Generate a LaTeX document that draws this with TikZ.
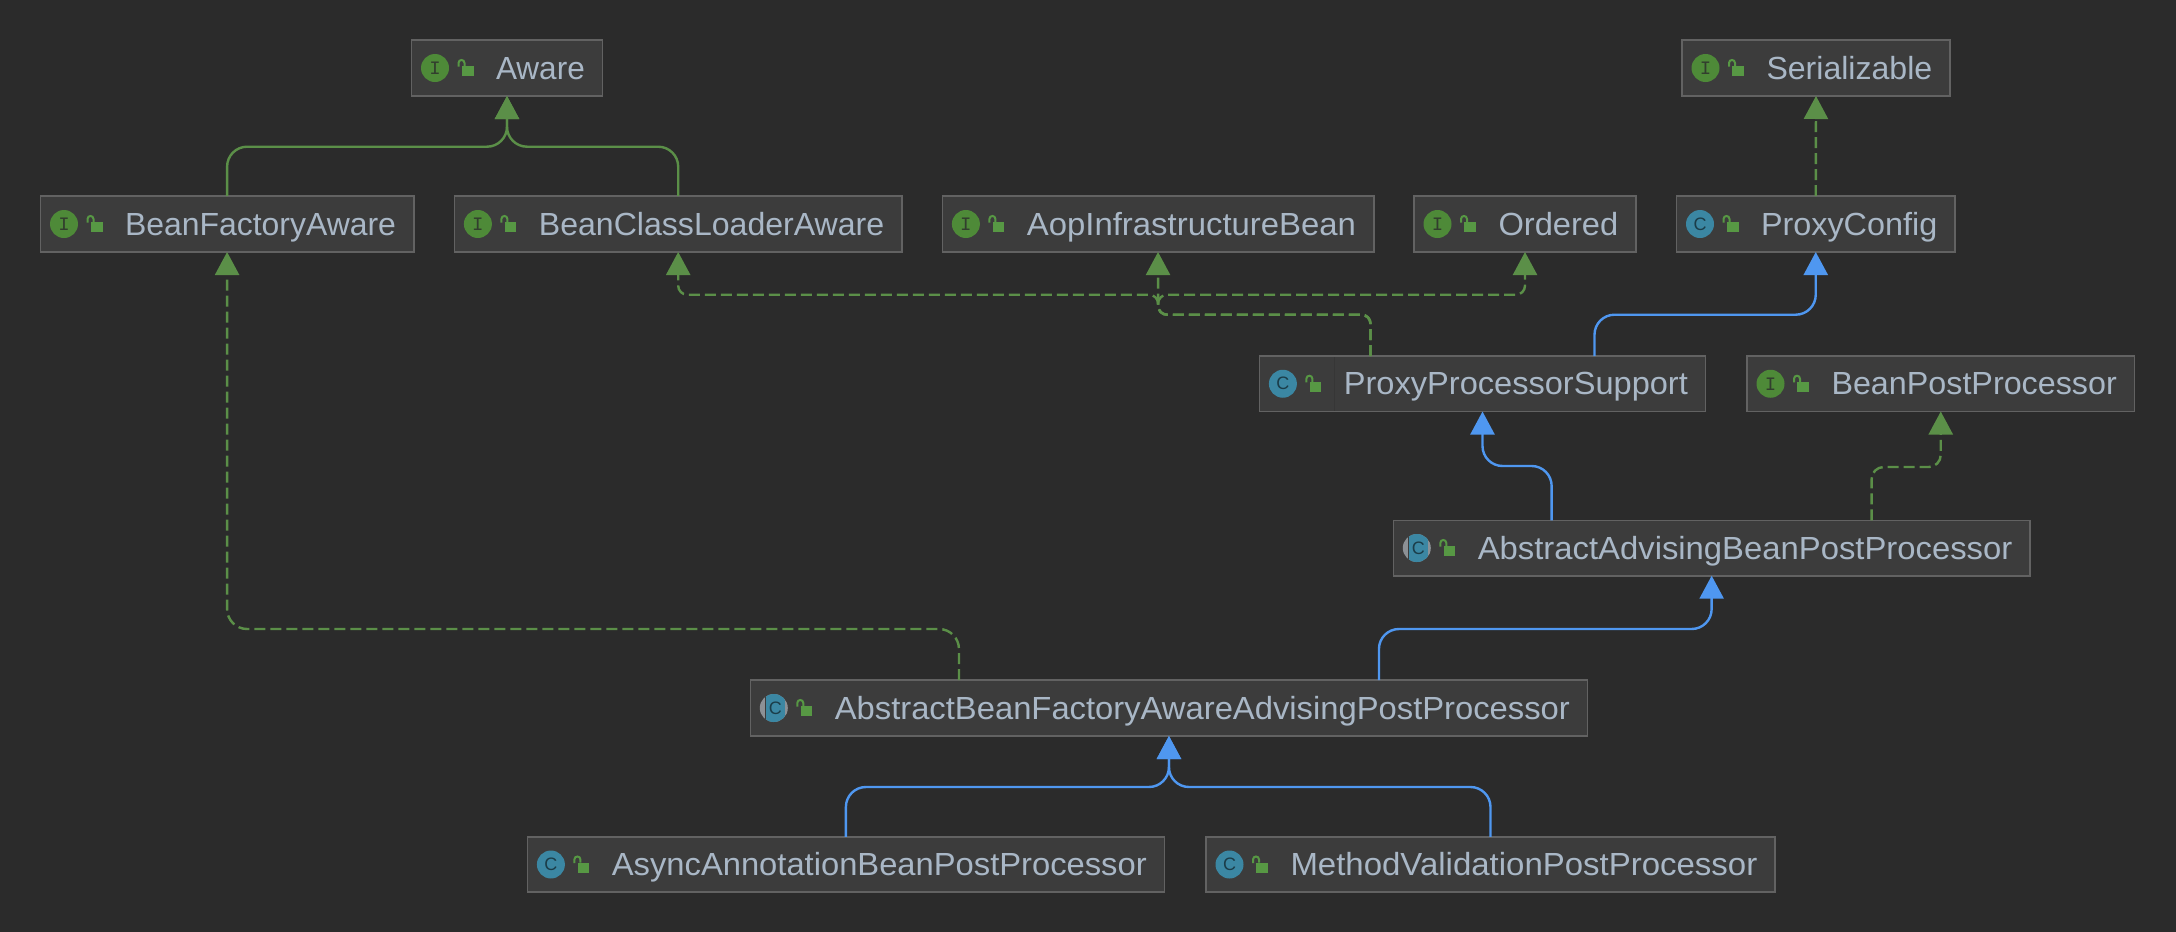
\documentclass[tikz,border=0pt]{standalone}
\usepackage{fontspec}
\usepackage{graphicx}
\setmainfont{Liberation Sans}
\newfontfamily\iconfont{Liberation Mono}
\usetikzlibrary{arrows.meta,calc}
\definecolor{bg}{HTML}{2B2B2B}
\definecolor{boxfill}{HTML}{3C3C3C}
\definecolor{boxline}{HTML}{626262}
\definecolor{sepline}{HTML}{363636}
\definecolor{txt}{HTML}{A9B7C6}
\definecolor{gline}{HTML}{5B8F48}
\definecolor{bline}{HTML}{4F97F0}
\definecolor{igreen}{HTML}{4E8A38}
\definecolor{iteal}{HTML}{3B87A3}
\definecolor{lockc}{HTML}{579844}
\definecolor{igray}{HTML}{8C9196}
\tikzset{
  x=0.5pt,y=-0.5pt,
  clsbox/.style={draw=boxline,fill=boxfill,line width=0.8pt,inner sep=0pt,outer sep=0pt},
  clstext/.style={text=txt,font=\fontsize{16}{18}\selectfont,inner sep=0pt,outer sep=0pt,anchor=base west},
  iconletter/.style={font=\iconfont\fontsize{9.5}{10}\selectfont,inner sep=0pt},
  iconletterc/.style={font=\fontsize{9}{10}\selectfont,inner sep=0pt},
  conn/.style={line width=1.2pt,rounded corners=10pt,-{Triangle[length=11.5pt,width=12pt]}},
  greenimpl/.style={conn,draw=gline,dash pattern=on 5.5pt off 2.5pt},
  greenext/.style={conn,draw=gline},
  blueext/.style={conn,draw=bline},
}
\newcommand\iconI{\fill[igreen] (23.5,0) circle[radius=7pt];\node[iconletter,text=bg!80!igreen] at (23.5,0) {I};}
\newcommand\iconC{\fill[iteal] (23.5,0) circle[radius=7pt];\node[iconletterc,text=iteal!45!black] at (23.5,0) {C};}
\newcommand\iconA{\fill[igray] (23.5,0) circle[radius=7pt];
  \begin{scope}\clip (23.5,0) circle[radius=7pt];\fill[boxfill] (14.2,-15) rectangle (15.5,15);\fill[iteal] (15.5,-15) rectangle (34.2,15);\end{scope}
  \node[iconletterc,text=iteal!45!black] at (25,0) {C};}
\newcommand\lockicon{\fill[lockc] (50.4,-2) rectangle (62,8);
  \draw[lockc,line width=1pt] (47,-1.5) -- (47,-5) .. controls (47,-9) and (53,-9) .. (53,-5) -- (53,-2);}
\newcommand\cls[7]{%
  \pgfmathsetmacro\W{(#3-#2)/2}\pgfmathsetmacro\H{(#5-#4)/2}
  \pgfmathsetmacro\TW{(#3-#2-84.5-17.7)/2}
  \node[clsbox,minimum width=\W pt,minimum height=\H pt] (#1) at ({(#2+#3)/2},{(#4+#5)/2}) {};
  \begin{scope}[shift={({#2},{(#4+#5)/2})}]
    \csname icon#6\endcsname\lockicon
    \node[clstext] (#1-t) at (84.5,11) {\resizebox{\TW pt}{\height}{#7}};
  \end{scope}}
\begin{document}
\begin{tikzpicture}
\fill[bg] (0,0) rectangle (2176,932);
\useasboundingbox (0,0) rectangle (2176,932);
\cls{aware}{411.5}{602.5}{40}{96}{I}{Aware}
\cls{ser}{1682}{1950}{40}{96}{I}{Serializable}
\cls{bfa}{40.5}{413.7}{196}{252}{I}{BeanFactoryAware}
\cls{bcl}{454.4}{902}{196}{252}{I}{BeanClassLoaderAware}
\cls{aop}{942.4}{1373.7}{196}{252}{I}{AopInfrastructureBean}
\cls{ord}{1414}{1636}{196}{252}{I}{Ordered}
\cls{pc}{1676.5}{1955}{196}{252}{C}{ProxyConfig}
\cls{pps}{1259.4}{1705.6}{356}{411.5}{C}{ProxyProcessorSupport}
\cls{bpp}{1747}{2134.5}{356}{411.5}{I}{BeanPostProcessor}
\cls{aabpp}{1393.3}{2030}{520.3}{575.7}{A}{AbstractAdvisingBeanPostProcessor}
\cls{abf}{750.3}{1587.6}{680}{736}{A}{AbstractBeanFactoryAwareAdvisingPostProcessor}
\cls{async}{527.4}{1164.4}{836.8}{892.2}{C}{AsyncAnnotationBeanPostProcessor}
\cls{mv}{1206}{1775}{836.8}{892.2}{C}{MethodValidationPostProcessor}
\draw[sepline,line width=0.5pt] ($(pps.north west)+(75,1)$) -- ($(pps.south west)+(75,-1)$);
% green solid
\coordinate (j1) at (aware.south |- 0,146.7);
\draw[greenext] (bfa.north) -- (bfa.north |- j1) -- (j1) -- (aware.south);
\draw[greenext] (bcl.north) -- (bcl.north |- j1) -- (j1) -- (aware.south);
% green dashed
\draw[greenimpl] (pc.north) -- (ser.south);
\coordinate (ppsd) at ($(pps.north)+(-112,0)$);
\coordinate (j2) at (aop.south |- 0,314.7);
\coordinate (j3) at (aop.south |- 0,294.7);
\draw[greenimpl,rounded corners=4.5pt] (ppsd) -- (ppsd |- j2) -- (j2) -- (j3) -- (bcl.south |- j3) -- (bcl.south);
\draw[greenimpl,rounded corners=4.5pt] (ppsd) -- (ppsd |- j2) -- (j2) -- (j3) -- (ord.south |- j3) -- (ord.south);
\draw[greenimpl,rounded corners=4.5pt] (ppsd) -- (ppsd |- j2) -- (j2) -- (aop.south);
\coordinate (aabd) at ($(aabpp.north)+(160,0)$);
\coordinate (j4) at (0,467);
\draw[greenimpl,rounded corners=6pt] (aabd) -- (aabd |- j4) -- (bpp.south |- j4) -- (bpp.south);
\coordinate (abfd) at ($(abf.north)+(-210,0)$);
\coordinate (j5) at (0,629);
\draw[greenimpl] (abfd) -- (abfd |- j5) -- (bfa.south |- j5) -- (bfa.south);
% blue
\coordinate (ppsb) at ($(pps.north)+(112,0)$);
\coordinate (j6) at (0,314.7);
\draw[blueext] (ppsb) -- (ppsb |- j6) -- (pc.south |- j6) -- (pc.south);
\coordinate (aabb) at ($(aabpp.north)+(-160,0)$);
\coordinate (j7) at (0,466);
\draw[blueext] (aabb) -- (aabb |- j7) -- (pps.south |- j7) -- (pps.south);
\coordinate (abfb) at ($(abf.north)+(210,0)$);
\coordinate (j8) at (0,629);
\draw[blueext] (abfb) -- (abfb |- j8) -- (aabpp.south |- j8) -- (aabpp.south);
\coordinate (j9) at (abf.south |- 0,787);
\draw[blueext] (async.north) -- (async.north |- j9) -- (j9) -- (abf.south);
\draw[blueext] (mv.north) -- (mv.north |- j9) -- (j9) -- (abf.south);
\end{tikzpicture}
\end{document}
